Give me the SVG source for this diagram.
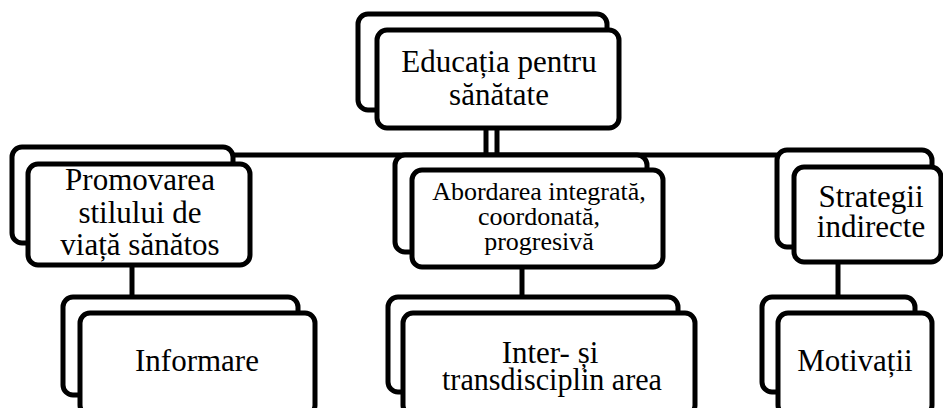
<svg xmlns="http://www.w3.org/2000/svg" width="943" height="408" viewBox="0 0 943 408">
<style>
.box{fill:#fff;stroke:#000;stroke-width:5;}
.ln{fill:none;stroke:#000;stroke-width:5;}
text{font-family:"Liberation Serif","Times New Roman",serif;font-size:31px;fill:#000;text-anchor:middle;}
.sm{font-size:26px;}
</style>
<rect width="943" height="408" fill="#fff"/>
<g id="connectors">
<line class="ln" x1="120" y1="155" x2="840" y2="155"/>
<line class="ln" x1="486" y1="125" x2="486" y2="155"/>
<line class="ln" x1="497" y1="125" x2="497" y2="155"/>
<line class="ln" x1="132" y1="260" x2="132" y2="300"/>
<line class="ln" x1="522" y1="260" x2="522" y2="300"/>
<line class="ln" x1="838" y1="258" x2="838" y2="300"/>
</g>
<g id="n-top">
<rect class="box" x="358" y="14" width="249" height="96" rx="10"/>
<rect class="box" x="377" y="30" width="242" height="98" rx="10"/>
<text x="499" y="72">Educația pentru</text>
<text x="499" y="105">sănătate</text>
</g>
<g id="n-promovarea">
<rect class="box" x="12" y="147" width="221" height="96" rx="10"/>
<rect class="box" x="28" y="164" width="222" height="101" rx="10"/>
<text x="140" y="190">Promovarea</text>
<text x="140" y="223">stilului de</text>
<text x="140" y="255">viață sănătos</text>
</g>
<g id="n-abordarea">
<rect class="box" x="395" y="155" width="252" height="97" rx="10"/>
<rect class="box" x="412" y="170" width="251" height="97" rx="10"/>
<text class="sm" x="539" y="200">Abordarea integrată,</text>
<text class="sm" x="539" y="225">coordonată,</text>
<text class="sm" x="539" y="250">progresivă</text>
</g>
<g id="n-strategii">
<rect class="box" x="777" y="150" width="155" height="97" rx="10"/>
<rect class="box" x="794" y="167" width="147" height="95" rx="10"/>
<text x="871" y="207">Strategii</text>
<text x="871" y="237">indirecte</text>
</g>
<g id="n-informare">
<rect class="box" x="63" y="297" width="235" height="98" rx="10"/>
<rect class="box" x="80" y="313" width="235" height="102" rx="10"/>
<text x="197" y="371">Informare</text>
</g>
<g id="n-inter">
<rect class="box" x="388" y="297" width="290" height="95" rx="10"/>
<rect class="box" x="403" y="313" width="292" height="102" rx="10"/>
<text x="550" y="363">Inter- și</text>
<text x="552" y="390" textLength="220" lengthAdjust="spacingAndGlyphs">transdisciplin area</text>
</g>
<g id="n-motivatii">
<rect class="box" x="762" y="297" width="153" height="95" rx="10"/>
<rect class="box" x="778" y="313" width="154" height="102" rx="10"/>
<text x="855" y="371">Motivații</text>
</g>
</svg>
